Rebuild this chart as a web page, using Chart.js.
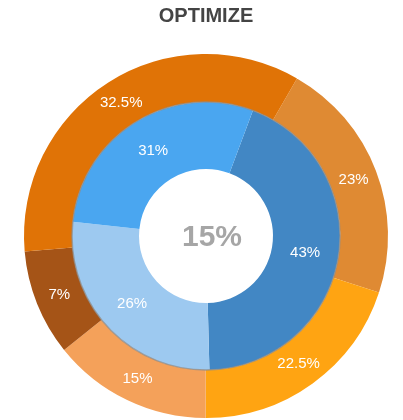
<!DOCTYPE html>
<html>
<head>
<meta charset="utf-8">
<script src="https://cdn.jsdelivr.net/npm/chart.js@4"></script>
<style>
  html, body { margin: 0; padding: 0; background: #fff; overflow: hidden; }
  #wrap { width: 403px; height: 420px; position: relative; }
</style>
</head>
<body>
<div id="wrap"><canvas id="optimizeChart"></canvas></div>
<script>
// outer ring (oranges) - slice sizes, labels as printed
const outerValues = [21.7, 20.0, 14.2, 9.4, 34.7];
const outerLabels = ['23%', '22.5%', '15%', '7%', '32.5%'];
const outerColors = ['#DF8A33', '#FFA412', '#F4A15A', '#A55417', '#E07306'];

// inner ring (blues)
const innerValues = [43.9, 27.1, 29.0];
const innerLabels = ['43%', '26%', '31%'];
const innerColors = ['#4287C4', '#9DC9F0', '#4AA6F0'];

const centerText = '15%';

const sliceLabels = {
    id: 'sliceLabels',
    afterDatasetsDraw(chart) {
        const ctx = chart.ctx;
        const texts = [outerLabels, innerLabels];
        ctx.save();

        // thin grey line between the two rings
        const innerMeta = chart.getDatasetMeta(1);
        const a0 = innerMeta.data[0];
        ctx.beginPath();
        ctx.arc(a0.x, a0.y, a0.outerRadius, 0, Math.PI * 2);
        ctx.strokeStyle = 'rgba(140,140,140,0.75)';
        ctx.lineWidth = 1.5;
        ctx.stroke();

        ctx.fillStyle = '#fff';
        ctx.font = '15px "Liberation Sans", Arial, sans-serif';
        ctx.textAlign = 'center';
        ctx.textBaseline = 'middle';
        chart.data.datasets.forEach((ds, i) => {
            chart.getDatasetMeta(i).data.forEach((arc, j) => {
                const p = arc.tooltipPosition();
                ctx.fillText(texts[i][j], p.x, p.y);
            });
        });

        // big number in the hole
        ctx.fillStyle = '#A6A6A6';
        ctx.font = 'bold 30px "Liberation Sans", Arial, sans-serif';
        ctx.fillText(centerText, a0.x + 6, a0.y + 2);
        ctx.restore();
    }
};

const ctx = document.getElementById('optimizeChart').getContext('2d');
new Chart(ctx, {
    type: 'doughnut',
    data: {
        labels: outerLabels,
        datasets: [{
            data: outerValues,
            backgroundColor: outerColors,
            borderWidth: 0,
            weight: 48,
            rotation: 30
        }, {
            data: innerValues,
            backgroundColor: innerColors,
            borderWidth: 0,
            weight: 67,
            rotation: 20.5
        }]
    },
    options: {
        responsive: true,
        maintainAspectRatio: false,
        animation: false,
        cutout: 67,
        layout: {
            padding: { left: 24, right: 15, top: 0, bottom: 2 }
        },
        plugins: {
            legend: { display: false },
            tooltip: { enabled: false },
            title: {
                display: true,
                text: 'OPTIMIZE',
                color: '#444',
                font: { family: '"Liberation Sans", Arial, sans-serif', size: 20, weight: 'bold', lineHeight: 1.2 },
                padding: { top: 4, bottom: 26 }
            }
        }
    },
    plugins: [sliceLabels]
});
</script>
</body>
</html>
